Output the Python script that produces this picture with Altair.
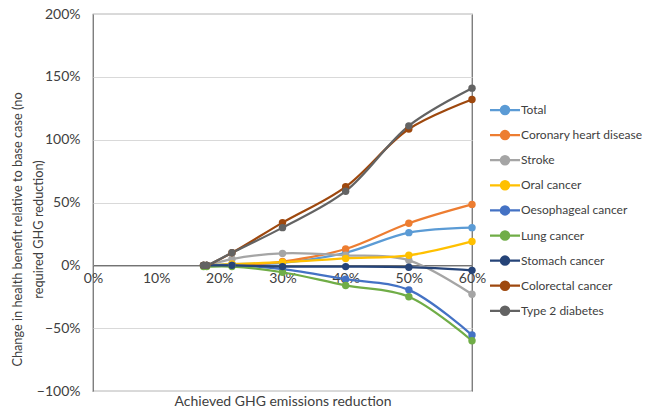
import altair as alt
import pandas as pd

x_vals = [17.5, 18, 22, 30, 40, 50, 60]

series_names = ["Total", "Coronary heart disease", "Stroke", "Oral cancer",
                "Oesophageal cancer", "Lung cancer", "Stomach cancer",
                "Colorectal cancer", "Type 2 diabetes"]
colors = ["#5B9BD5", "#ED7D31", "#A5A5A5", "#FFC000", "#4472C4",
          "#70AD47", "#264478", "#9E480E", "#636363"]

total = [0, 0, 1, 2, 10, 26, 30]
chd = [0, 0, 0, 3, 13, 33.5, 48.5]
stroke = [0, 0, 5, 9.5, 8, 4, -23]
oral = [0, 0, 1, 2.5, 5.5, 8, 19]
oesophageal = [0, 0, 0, -3, -11, -19.5, -55.5]
lung = [-1, -1, -1, -5.5, -16, -25, -60]
stomach = [0, 0, 0, -1, -1, -1.5, -4]
colorectal = [0, 0, 10, 34, 62.5, 108.5, 132]
diabetes = [0, 0, 10, 30, 59, 111, 141]

all_series = [total, chd, stroke, oral, oesophageal, lung, stomach, colorectal, diabetes]

rows = []
for name, vals in zip(series_names, all_series):
    for xv, yv in zip(x_vals, vals):
        rows.append({"series": name, "x": xv / 100, "y": yv / 100})
df = pd.DataFrame(rows)

FONT = "Lato"
TXT = "#404040"

# line with a dot, drawn wider than the nominal symbol box
symbol_path = ("M-2,0L2,0M-0.55,0A0.55,0.55 0 1,1 0.55,0"
               "A0.55,0.55 0 1,1 -0.55,0Z")

W, H = 379, 377
zero_from_bottom = H / 3.0

color = alt.Color(
    "series:N",
    scale=alt.Scale(domain=series_names, range=colors),
    legend=alt.Legend(
        title=None, orient="none", legendX=403, legendY=87,
        symbolType=symbol_path, symbolSize=225, symbolStrokeWidth=2.25,
        labelFontSize=12, labelFont=FONT, labelColor=TXT,
        rowPadding=7.1, labelOffset=7, padding=0, labelLimit=200,
    ),
)

x_enc = alt.X(
    "x:Q",
    scale=alt.Scale(domain=[0, 0.6], nice=False),
    axis=alt.Axis(
        title="Achieved GHG emissions reduction",
        format=".0%", values=[0, 0.1, 0.2, 0.3, 0.4, 0.5, 0.6],
        offset=-zero_from_bottom, ticks=False, grid=False,
        domainColor="#404040", domainWidth=1, labelFlush=False,
        labelPadding=6, labelFontSize=14, labelFont=FONT, labelColor=TXT,
        titleFontSize=14, titleFont=FONT, titleColor=TXT,
        titleFontWeight="normal", titleBaseline="middle", titleY=136.5,
    ),
)
y_enc = alt.Y(
    "y:Q",
    scale=alt.Scale(domain=[-1, 2], nice=False),
    axis=alt.Axis(
        title=["Change in health benefit relative to base case (no",
               "required GHG reduction)"],
        format=".0%", values=[-1, -0.5, 0, 0.5, 1, 1.5, 2],
        ticks=False, domain=False, grid=True,
        gridColor="#D9D9D9", gridWidth=1,
        labelPadding=13, labelFontSize=14, labelFont=FONT, labelColor=TXT,
        titleFontSize=12.75, titleFont=FONT, titleColor=TXT,
        titleFontWeight="normal", titleLineHeight=21,
        titleAlign="center", titleAnchor="middle",
        titleX=-76, titleY=215, titleBaseline="middle", titleAngle=270,
    ),
)

base = alt.Chart(df)
lines = base.mark_line(interpolate="catmull-rom", strokeWidth=2.25).encode(
    x=x_enc, y=y_enc, color=color, order="x:Q"
)
points = base.mark_point(filled=True, size=55, opacity=1).encode(
    x=x_enc, y=y_enc, color=color
)

chart = (
    alt.layer(lines, points)
    .properties(
        width=W, height=H, autosize="none",
        padding={"left": 85, "top": 6, "right": 170, "bottom": 18},
        background="white",
    )
    .configure_view(stroke="#6E6E6E", strokeWidth=1.25)
)

chart.save("out.html", embed_options={"renderer": "svg", "actions": False})
